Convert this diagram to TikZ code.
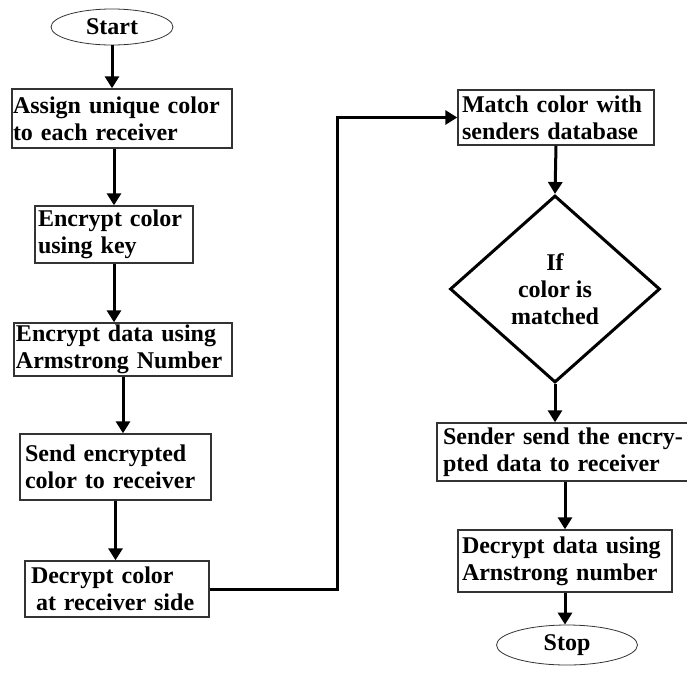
\documentclass[tikz,border=0pt]{standalone}
\usepackage{fontspec}
\setmainfont{Liberation Serif}
\usetikzlibrary{positioning,arrows.meta,shapes.geometric}

\tikzset{
  procbox/.style={draw=black!80, line width=1.4pt, align=left, inner ysep=0pt,
    font=\bfseries\fontsize{24}{27}\selectfont,
    execute at begin node={\hyphenpenalty=10000}},
  termnode/.style={ellipse, draw=black!80, line width=0.8pt, inner sep=0pt,
    font=\bfseries\fontsize{24}{27}\selectfont},
  decision/.style={diamond, draw, line width=3pt, align=center, inner sep=0pt,
    shape aspect=1.12, font=\bfseries\fontsize{24}{27}\selectfont},
  flow/.style={line width=3pt, -{Triangle[length=12pt,width=14pt]}}
}

\begin{document}
\begin{tikzpicture}[x=1pt,y=-1pt]
  \useasboundingbox (0,0) rectangle (687,672);
  % left column
  \node[termnode,minimum width=122pt,minimum height=36pt] (start) at (112,27){Start};
  \node[procbox,inner xsep=1pt,text width=218pt,minimum height=59pt] (assign) at (122,118.5){Assign unique color\\to each receiver};
  \node[procbox,inner xsep=3pt,text width=152pt,minimum height=57pt] (enccol) at (114,234.5){Encrypt color\\using key};
  \node[procbox,inner xsep=2pt,text width=214pt,minimum height=53pt] (encdata) at (123,349.5){Encrypt data using\\Armstrong Number};
  \node[procbox,inner xsep=5pt,text width=181pt,minimum height=66pt] (send) at (115.5,467){Send encrypted\\color to receiver};
  \node[procbox,inner xsep=6pt,text width=172pt,minimum height=56pt] (deccol) at (117,589){Decrypt color\\\hspace{5pt}at receiver side};
  % right column
  \node[procbox,inner xsep=4pt,text width=188pt,minimum height=55pt] (match) at (556,117.5){Match color with\\senders database};
  \node[decision,minimum width=210pt,minimum height=187pt] (cond) at (555,289){If\\color is\\matched};
  \node[procbox,inner xsep=6pt,text width=250pt,minimum height=58pt] (sender) at (568,452){Sender send the encry-\\pted data to receiver};
  \node[procbox,inner xsep=4pt,text width=206pt,minimum height=62pt] (decdata) at (565,561){Decrypt data using\\Arnstrong number};
  \node[termnode,minimum width=141pt,minimum height=40pt] (stop) at (567,645){Stop};
  \coordinate (bend) at (337,0);

  \draw[flow] (start.south) -- (start.south |- assign.north);
  \draw[flow] (enccol.north |- assign.south) -- (enccol.north);
  \draw[flow] (enccol.south) -- (enccol.south |- encdata.north);
  \draw[flow] (encdata.south) -- (encdata.south |- send.north);
  \draw[flow] (send.south) -- (send.south |- deccol.north);
  \draw[flow] (deccol.east) -- (deccol.east -| bend) |- (match.west);
  \draw[flow] (match.south) -- (cond.north);
  \draw[flow] (cond.south) -- (cond.south |- sender.north);
  \draw[flow] (decdata.north |- sender.south) -- (decdata.north);
  \draw[flow] (decdata.south) -- (decdata.south |- stop.north);
\end{tikzpicture}
\end{document}
